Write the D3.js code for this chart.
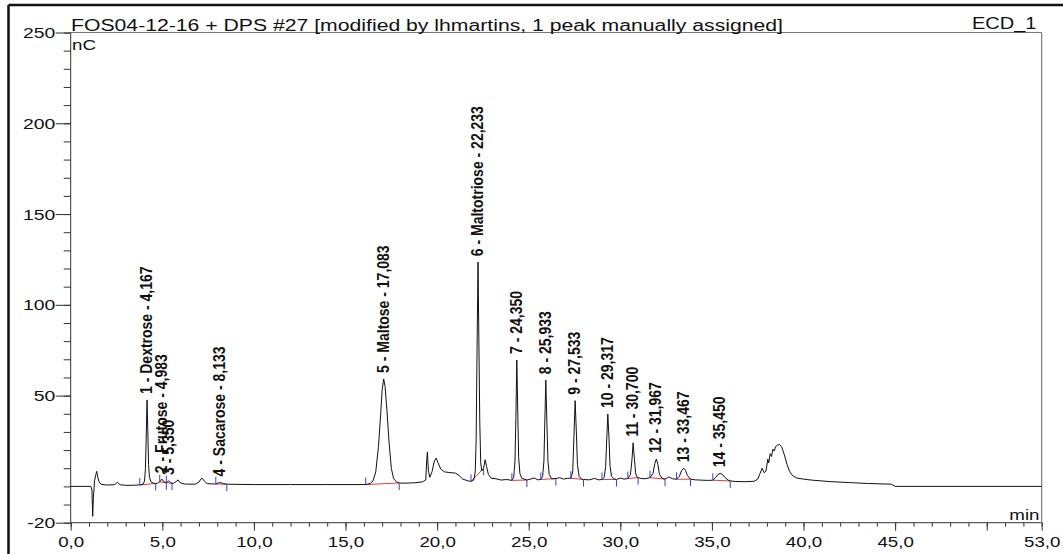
<!DOCTYPE html>
<html><head><meta charset="utf-8">
<script src="https://cdn.jsdelivr.net/npm/d3@7"></script>
<style>html,body{margin:0;padding:0;background:#fff;}svg{display:block;}</style>
</head><body>
<svg id="chart" width="1063" height="554"></svg>
<script>
// ---------- data ----------
const titleText = "FOS04-12-16 + DPS #27 [modified by lhmartins, 1 peak manually assigned]";
const channelText = "ECD_1";
const xUnit = "min";
const yUnit = "nC";
const xTickValues = [0, 5, 10, 15, 20, 25, 30, 35, 40, 45, 50, 53];
const xTickLabels = ["0,0", "5,0", "10,0", "15,0", "20,0", "25,0", "30,0", "35,0", "40,0", "45,0", "", "53,0"];
const yTickValues = [-20, 50, 100, 150, 200, 250];
const yTickLabels = ["-20", "50", "100", "150", "200", "250"];

const peakLabels = ["1 - Dextrose - 4,167", "2 - Frutose - 4,983", "3 - 5,350", "4 - Sacarose - 8,133",
  "5 - Maltose - 17,083", "6 - Maltotriose - 22,233", "7 - 24,350", "8 - 25,933", "9 - 27,533",
  "10 - 29,317", "11 - 30,700", "12 - 31,967", "13 - 33,467", "14 - 35,450"];
const peakTimes = [4.167, 4.983, 5.350, 8.133, 17.083, 22.233, 24.350, 25.933, 27.533, 29.317, 30.700, 31.967, 33.467, 35.450];
const peakHeights = [47.6, 4, 3, 2.2, 59.2, 123.5, 69.6, 58.5, 47.2, 39.9, 24, 15.1, 10, 7.2];
const peakStarts = [3.77, 4.86, 5.22, 7.92, 16.1, 21.85, 24.08, 25.66, 27.3, 29.0, 30.41, 31.62, 33.07, 35.05];
const peakEnds = [4.64, 5.22, 5.53, 8.52, 17.93, 22.54, 24.9, 26.48, 27.99, 29.79, 30.97, 32.44, 33.83, 36.0];

// chromatogram trace [time (min), signal (nC)]
const signal = [
  [0,0],[1.1,0],[1.16,-2],[1.2,-16.5],[1.24,-6],[1.3,3],[1.36,6],[1.42,8.3],[1.48,5],[1.55,2.5],[1.65,1.2],
  [1.9,0.8],[2.2,0.8],[2.4,1],[2.55,2.2],[2.7,0.9],[3.0,0.6],[3.4,0.6],[3.77,0.8],
  [3.95,1.2],[4.03,3],[4.08,10],[4.12,26],[4.167,47.6],[4.21,30],[4.25,12],[4.3,5],[4.38,2.5],[4.5,1.8],[4.64,1.6],
  [4.75,1.8],[4.86,2.5],[4.983,4],[5.08,2.6],[5.22,2],[5.35,3],[5.45,2],[5.6,1.6],[5.75,2.6],[5.86,3.6],[5.97,2],
  [6.2,1.3],[6.8,1.2],[7.0,2.4],[7.12,4.2],[7.19,4.4],[7.3,2.8],[7.45,1.5],[7.92,1.3],[8.133,2.2],[8.35,1.5],[8.52,1.2],
  [10,1],[12,1],[14,1],[16.1,1],
  [16.35,1.6],[16.5,3],[16.65,8],[16.8,22],[16.92,40],[17.0,53],[17.083,59.2],[17.16,55],[17.26,42],[17.38,24],
  [17.5,10],[17.62,4.5],[17.78,2.5],[17.95,1.8],[18.3,1.8],[18.8,2],[19.2,2.5],[19.38,3.5],[19.43,14],[19.47,19],
  [19.52,9],[19.6,5],[19.72,8],[19.85,14],[19.95,15.6],[20.05,13],[20.2,9.5],[20.4,8],[20.7,7.6],[21.0,7.3],
  [21.2,6],[21.4,4],[21.7,3],[21.85,2.8],
  [22.0,3.5],[22.08,8],[22.13,25],[22.18,75],[22.233,123.5],[22.28,80],[22.33,35],[22.38,13],[22.44,8.5],[22.54,10],
  [22.62,14.7],[22.7,11],[22.8,6.5],[22.95,4.5],[23.2,4.2],[23.5,3.5],[23.8,3.8],[24.08,3.3],
  [24.18,5],[24.25,14],[24.3,38],[24.35,69.6],[24.4,42],[24.45,16],[24.52,7],[24.62,4.5],[24.9,3.5],[25.1,4],
  [25.3,4.6],[25.5,3.6],[25.66,3.8],
  [25.76,5.5],[25.83,14],[25.88,36],[25.933,58.5],[25.99,36],[26.05,14],[26.12,6.5],[26.25,4.2],[26.48,4.3],
  [26.7,4.8],[26.9,4],[27.1,4.4],[27.3,4.5],
  [27.4,8],[27.46,25],[27.533,47.2],[27.6,30],[27.66,12],[27.75,5.5],[27.88,4],[27.99,3.8],[28.3,3.6],[28.6,4.4],
  [28.8,3.6],[29.0,3.8],
  [29.12,5],[29.2,11],[29.26,26],[29.317,39.9],[29.38,27],[29.44,11],[29.52,5.5],[29.65,4.2],[29.79,3.8],[30.0,4.6],
  [30.2,4],[30.41,4.3],
  [30.55,6.5],[30.63,14],[30.7,24],[30.77,15],[30.84,7],[30.92,5],[31.1,4.4],[31.35,4.2],[31.62,4.8],
  [31.78,7],[31.88,12.5],[31.967,15.1],[32.05,12],[32.14,6.5],[32.28,4.5],[32.44,4],[32.65,5.2],[32.85,4.2],[33.07,3.9],
  [33.22,5.5],[33.35,8.8],[33.467,10],[33.56,8.8],[33.66,6],[33.83,4],[34.1,3.6],[34.5,3.4],[34.8,3.3],[35.05,3.4],
  [35.2,4.8],[35.32,6.5],[35.45,7.2],[35.58,6.5],[35.72,4.8],[35.88,3.5],[36.0,3],[36.3,2.7],[36.8,2.6],[37.3,2.8],
  [37.5,4],[37.62,7],[37.74,10],[37.85,7.5],[37.95,8.5],[38.05,15],[38.1,13],[38.18,18],[38.25,16.5],[38.33,20.5],
  [38.4,19.5],[38.48,22],[38.58,22.8],[38.68,23],[38.8,22],[38.95,17.5],[39.1,12],[39.25,8],[39.4,6],[39.63,4.6],
  [40,4],[40.5,3.4],[41.5,2.6],[42.5,2.1],[43.5,1.6],[44.8,1.2],[45,0],[53,0]
];

// ---------- layout ----------
const svg = d3.select("#chart");
const FONT = "'Liberation Sans', Arial, sans-serif";
const SX = 1.25; // horizontal glyph stretch seen in the reference
const L = 70.7, R = 1041.7, T = 32.5, B = 522.7;
const x = d3.scaleLinear().domain([0, 53]).range([L, R]);
const y = d3.scaleLinear().domain([-20, 250]).range([B, T]);

// outer frame (top + left thick borders)
svg.append("line").attr("x1", 8.5).attr("x2", 1063).attr("y1", 5).attr("y2", 5)
  .attr("stroke", "#111").attr("stroke-width", 2.5);
svg.append("line").attr("x1", 8.5).attr("x2", 8.5).attr("y1", 5).attr("y2", 554)
  .attr("stroke", "#111").attr("stroke-width", 2.5);

// plot frame
svg.append("line").attr("x1", L).attr("x2", R).attr("y1", T).attr("y2", T).attr("stroke", "#777").attr("stroke-width", 1);
svg.append("line").attr("x1", R).attr("x2", R).attr("y1", T).attr("y2", B).attr("stroke", "#666").attr("stroke-width", 1);

// x axis
const gxMinor = svg.append("g").attr("transform", `translate(0,${B})`)
  .call(d3.axisBottom(x).tickValues(d3.range(0, 54, 1)).tickSize(4).tickFormat(""));
const gxMajor = svg.append("g").attr("transform", `translate(0,${B})`)
  .call(d3.axisBottom(x).tickValues(xTickValues).tickSize(8).tickPadding(6)
    .tickFormat((d, i) => xTickLabels[i]));
[gxMinor, gxMajor].forEach(g => {
  g.select(".domain").remove();
  g.selectAll("line").attr("stroke", "#333");
});
gxMajor.selectAll("text").attr("font-family", FONT).attr("font-size", 15).attr("fill", "#111")
  .attr("transform", `scale(${SX},1)`);

// y axis
const gyMinor = svg.append("g").attr("transform", `translate(${L},0)`)
  .call(d3.axisLeft(y).tickValues(d3.range(-20, 251, 10)).tickSize(7).tickFormat(""));
const gyMajor = svg.append("g").attr("transform", `translate(${L},0)`)
  .call(d3.axisLeft(y).tickValues(yTickValues).tickSize(15).tickPadding(0)
    .tickFormat((d, i) => yTickLabels[i]));
[gyMinor, gyMajor].forEach(g => {
  g.select(".domain").remove();
  g.selectAll("line").attr("stroke", "#333");
});
gyMajor.selectAll("text").attr("font-family", FONT).attr("font-size", 15.5).attr("fill", "#111")
  .attr("x", -15.5 / SX).attr("transform", `scale(${SX},1)`);

// axis lines
svg.append("line").attr("x1", L).attr("x2", L).attr("y1", T).attr("y2", B).attr("stroke", "#333");
svg.append("line").attr("x1", L).attr("x2", R).attr("y1", B).attr("y2", B).attr("stroke", "#333");

// texts
svg.append("text").attr("x", 71).attr("y", 30.5).attr("font-family", FONT).attr("font-size", 16)
  .attr("textLength", 712).attr("lengthAdjust", "spacingAndGlyphs").attr("fill", "#111").text(titleText);
svg.append("text").attr("transform", `translate(1036.5,28.5) scale(${SX},1)`).attr("text-anchor", "end")
  .attr("font-family", FONT).attr("font-size", 16).attr("fill", "#111").text(channelText);
svg.append("text").attr("transform", `translate(72,50) scale(${SX},1)`)
  .attr("font-family", FONT).attr("font-size", 15).attr("fill", "#111").text(yUnit);
svg.append("text").attr("transform", `translate(1039.5,519.5) scale(${SX},1)`).attr("text-anchor", "end")
  .attr("font-family", FONT).attr("font-size", 15).attr("fill", "#111").text(xUnit);

// interpolation of the trace at a given time (to sit markers on it)
const bis = d3.bisector(d => d[0]).left;
function at(t) {
  const i = Math.max(1, Math.min(signal.length - 1, bis(signal, t)));
  const a = signal[i - 1], b = signal[i];
  const f = (t - a[0]) / (b[0] - a[0]);
  return a[1] + f * (b[1] - a[1]);
}

// integration baselines (red)
svg.append("g").selectAll("line").data(peakTimes).join("line")
  .attr("x1", (d, i) => x(peakStarts[i])).attr("y1", (d, i) => y(at(peakStarts[i])))
  .attr("x2", (d, i) => x(peakEnds[i])).attr("y2", (d, i) => y(at(peakEnds[i])))
  .attr("stroke", "#e0403a").attr("stroke-width", 1);

// trace
const line = d3.line().x(d => x(d[0])).y(d => y(d[1]));
svg.append("path").datum(signal).attr("d", line).attr("fill", "none")
  .attr("stroke", "#111").attr("stroke-width", 1).attr("stroke-linejoin", "round");

// peak delimiters (blue)
const gm = svg.append("g").attr("stroke", "#3c3cd2").attr("stroke-width", 1);
gm.selectAll("line.s").data(peakStarts).join("line").attr("class", "s")
  .attr("x1", d => x(d)).attr("x2", d => x(d)).attr("y1", d => y(at(d))).attr("y2", d => y(at(d)) - 7);
gm.selectAll("line.e").data(peakEnds).join("line").attr("class", "e")
  .attr("x1", d => x(d)).attr("x2", d => x(d)).attr("y1", d => y(at(d))).attr("y2", d => y(at(d)) + 7);

// peak labels (vertical)
svg.append("g").selectAll("text").data(peakLabels).join("text")
  .attr("transform", (d, i) => `translate(${x(peakTimes[i]) - 1},${y(peakHeights[i]) - 6}) rotate(-90) scale(1,1.2)`)
  .attr("dy", "0.35em").attr("font-family", FONT).attr("font-size", 14).attr("font-weight", "bold")
  .attr("fill", "#111").text(d => d);
</script>
</body></html>
